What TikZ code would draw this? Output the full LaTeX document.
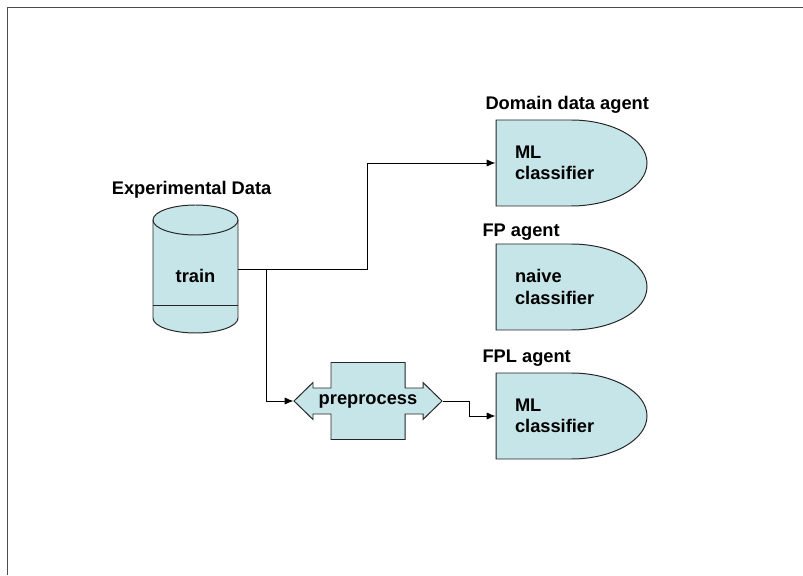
\documentclass[tikz,border=0pt]{standalone}
\usepackage{fontspec}
\setmainfont{Liberation Sans}
\usepackage{tikz}
\usetikzlibrary{arrows.meta}
\usetikzlibrary{positioning}
\definecolor{boxcyan}{RGB}{198,229,232}
\tikzset{txt/.style={font=\fontsize{13}{15}\selectfont\bfseries}}
\tikzset{shapefill/.style={draw=black!85,line width=0.7pt,fill=boxcyan}}
\tikzset{agent/.style={txt,minimum width=3.775cm,minimum height=2.15cm,inner xsep=0.475cm,text width=2.825cm,align=left}}
\tikzset{agentlabel/.style={txt,anchor=west,inner sep=0pt}}

\begin{document}
\begin{tikzpicture}[>={Latex[length=2.2mm,width=1.8mm]},line width=0.7pt]
		\useasboundingbox (0,0) rectangle (20.075,14.375);
		% page frame
		\draw[black!70,line width=0.6pt] (0.175,0) -- (0.175,14.2) -- (20.075,14.2);

		% data store
		\begin{scope}[shift={(4.8875,7.65)}]
		\draw[shapefill] (-1.0625,1.225) -- (-1.0625,-1.225) arc (180:360:1.0625 and 0.375) -- (1.0625,1.225) arc (0:180:1.0625 and 0.375) -- cycle;
		\draw[black!85] (-1.0625,1.225) arc (180:360:1.0625 and 0.375);
		\draw[black!85] (-1.0625,-0.9) -- (1.0625,-0.9);
		\end{scope}
		\node[minimum width=2.125cm,minimum height=2.45cm](data) at (4.8875,7.65){};
		\node[txt](train) at (4.8875,7.475){train};
		\node[txt](datalabel) at (4.79,9.625){Experimental Data};

		% agents
		\foreach \y in {10.3,7.2,3.975}
			\draw[shapefill] (12.4,\y-1.075) -- (14.275,\y-1.075) arc (-90:90:1.9 and 1.075) -- (12.4,\y+1.075) -- cycle;
		\node[agent](dom) at (14.2875,10.3){ML\\classifier};
		\node[agent](fp) at (14.2875,7.2){naive\\classifier};
		\node[agent](fpl) at (14.2875,3.975){ML\\classifier};
		\node[agentlabel](domlabel) at (12.125,11.75){Domain data agent};
		\node[agentlabel](fplabel) at (12.05,8.575){FP agent};
		\node[agentlabel](fpllabel) at (12.05,5.425){FPL agent};

		% preprocess
		\begin{scope}[shift={(9.2,4.35)}]
		\draw[shapefill] (-1.85,0) -- (-1.375,0.4625) -- (-1.375,0.325) -- (-0.925,0.325) -- (-0.925,0.9625)
			-- (0.925,0.9625) -- (0.925,0.325) -- (1.375,0.325) -- (1.375,0.4625) -- (1.85,0)
			-- (1.375,-0.4625) -- (1.375,-0.325) -- (0.925,-0.325) -- (0.925,-0.9625)
			-- (-0.925,-0.9625) -- (-0.925,-0.325) -- (-1.375,-0.325) -- (-1.375,-0.4625) -- cycle;
		\end{scope}
		\node[txt,minimum width=3.7cm,minimum height=1.925cm,inner xsep=0pt](pre) at (9.2,4.35){preprocess};

		% connectors
		\coordinate (jn) at (6.65,7.65);
		\coordinate (bend) at (9.175,7.65);
		\draw[->] (data.east) -- (bend) |- (dom.west);
		\draw[->] (jn) |- (pre.west);
		\draw[->] (pre.east) -- ++(0.675,0) |- (fpl.west);
	\end{tikzpicture}
\end{document}
